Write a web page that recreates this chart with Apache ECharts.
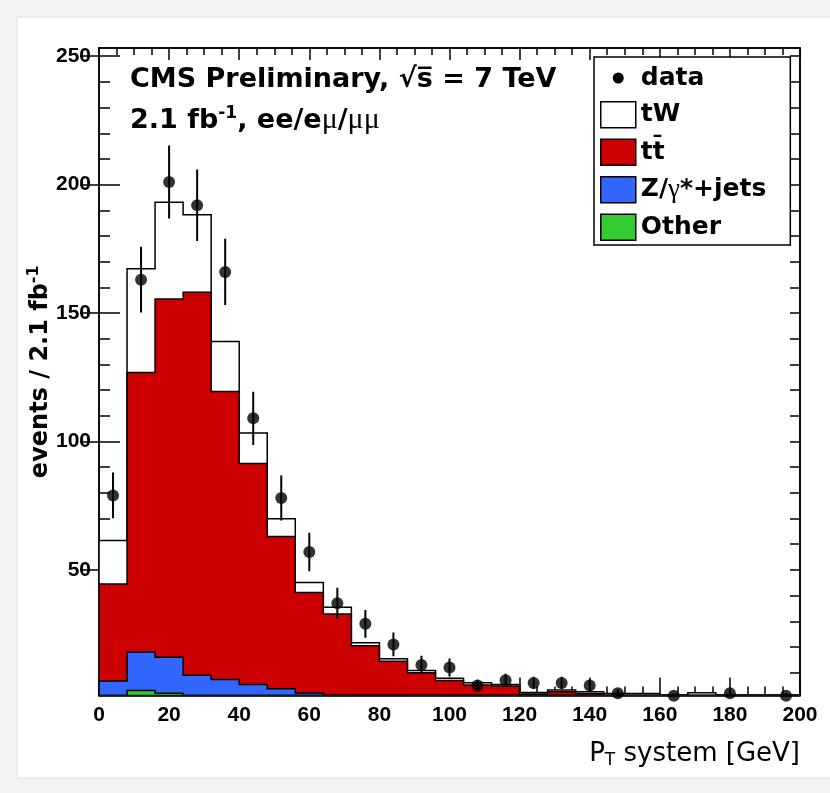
<!DOCTYPE html>
<html>
<head>
<meta charset="utf-8">
<script src="https://cdn.jsdelivr.net/npm/echarts@6/dist/echarts.min.js"></script>
<style>
  html, body { margin: 0; padding: 0; background: #f3f3f3; }
  #chart { width: 830px; height: 793px; }
</style>
</head>
<body>
<div id="chart"></div>
<script>
// bin edges of the histogram (GeV)
var binEdges = [0, 8, 16, 24, 32, 40, 48, 56, 64, 72, 80, 88, 96, 104, 112, 120,
  128, 136, 144, 152, 160, 168, 176, 184, 192, 200];

// expected events per bin, one array per process (stacked bottom -> top)
var otherEv = [0.5, 3.0, 2.0, 0.8, 0.6, 0.5, 0.4, 0.3, 0.3, 0.2, 0.2, 0.1, 0.1,
  0.1, 0.1, 0.1, 0.1, 0.1, 0.05, 0.05, 0.05, 0.05, 0.05, 0.05, 0.05];
var zjetsEv = [6.2, 15.0, 14.0, 8.2, 6.7, 4.9, 3.3, 1.8, 0.7, 0.4, 0.3, 0.3, 0.2,
  0.2, 0.1, 0.1, 0.1, 0.1, 0.05, 0.05, 0.05, 0.05, 0.05, 0.05, 0.05];
var ttbarEv = [37.8, 108.9, 139.5, 149.1, 112.2, 86.0, 59.3, 39.1, 31.8, 19.9, 13.9,
  9.6, 6.6, 4.9, 4.6, 1.5, 2.4, 1.7, 1.0, 1.0, 1.0, 1.0, 1.0, 1.0, 1.0];
var twEv = [16.9, 40.4, 37.6, 30.2, 19.4, 11.9, 6.9, 3.9, 2.7, 1.1, 1.0, 0.8, 0.9,
  0.9, 0.6, 0.6, 0.6, 0.7, 0.8, 0.8, 0.2, 1.1, 0.2, 0.2, 0.2];

// observed data
var dataX = [4, 12, 20, 28, 36, 44, 52, 60, 68, 76, 84, 92, 100, 108, 116, 124,
  132, 140, 148, 164, 180, 196];
var dataN = [79, 163, 201, 192, 166, 109, 78, 57, 37, 29, 21, 13, 12, 5, 7, 6,
  6, 5, 2, 1, 2, 1];
var dataErr = [8.9, 12.8, 14.2, 13.9, 12.9, 10.4, 8.8, 7.5, 6.1, 5.4, 4.6, 3.6,
  3.5, 2.2, 2.6, 2.4, 2.4, 2.2, 1.4, 1.0, 1.4, 1.0];

var yMinorTicks = [10, 20, 30, 40, 50, 60, 70, 80, 90, 100, 110, 120, 130, 140, 150,
  160, 170, 180, 190, 200, 210, 220, 230, 240, 250];
var yMajorTicks = [50, 100, 150, 200, 250];

var yMin = 1.1, yMax = 253.2;
var font = 'DejaVu Sans, sans-serif';
var numFont = 'Liberation Sans, Arial, sans-serif';
var greekFont = 'Liberation Serif, serif';

function cumulate(layers) {
  return layers[0].map(function (_, i) {
    return layers.reduce(function (s, l) { return s + l[i]; }, 0);
  });
}
var cumOther = cumulate([otherEv]);
var cumZ = cumulate([otherEv, zjetsEv]);
var cumTT = cumulate([otherEv, zjetsEv, ttbarEv]);
var cumTW = cumulate([otherEv, zjetsEv, ttbarEv, twEv]);

function stepSeries(name, cum, color) {
  return {
    name: name,
    type: 'custom',
    clip: true,
    silent: true,
    itemStyle: { color: color, borderColor: '#000', borderWidth: 1.5 },
    data: [[0, 0]],
    renderItem: function (params, api) {
      var last = binEdges.length - 1;
      var pts = [api.coord([binEdges[0], yMin])];
      for (var i = 0; i < cum.length; i++) {
        pts.push(api.coord([binEdges[i], cum[i]]));
        pts.push(api.coord([binEdges[i + 1], cum[i]]));
      }
      pts.push(api.coord([binEdges[last], yMin]));
      return {
        type: 'polygon',
        shape: { points: pts },
        style: { fill: color, stroke: '#000', lineWidth: 1.5 }
      };
    }
  };
}

var blackLine = { color: '#000', width: 1.5 };
var dataIcon = 'path://M0,0L0,0M35,26L35,26M12,13a5.5,5.5 0 1,0 11,0a5.5,5.5 0 1,0 -11,0z';

var chart = echarts.init(document.getElementById('chart'));
chart.setOption({
  backgroundColor: '#f3f3f3',
  animation: false,
  graphic: [{
    type: 'rect', silent: true, z: -10,
    shape: { x: 17, y: 17, width: 840, height: 761 },
    style: { fill: '#fff', stroke: '#e0e0e0', lineWidth: 1 }
  }],
  title: [{
    left: 130, top: 66, padding: 0,
    text: 'CMS Preliminary, \u221As\u0305 = 7 TeV',
    textStyle: { fontSize: 27, fontWeight: 'bold', color: '#000', fontFamily: font }
  }, {
    left: 130, top: 105, padding: 0,
    text: '2.1 fb{sup|-1}, ee/e{g|\u03BC}/{g|\u03BC\u03BC}',
    textStyle: {
      fontSize: 27, fontWeight: 'bold', color: '#000', fontFamily: font,
      rich: {
        sup: { fontSize: 17, fontWeight: 'bold', fontFamily: font, padding: [0, 0, 14, 0] },
        g: { fontSize: 30, fontWeight: 'normal', fontFamily: greekFont }
      }
    }
  }],
  legend: {
    orient: 'vertical',
    left: 594, top: 57,
    itemWidth: 35, itemHeight: 26, itemGap: 10,
    padding: [8, 24, 4, 6],
    borderColor: '#000', borderWidth: 1.5,
    backgroundColor: '#fff',
    selectedMode: false,
    textStyle: {
      fontSize: 25, fontWeight: 'bold', color: '#000', fontFamily: font,
      rich: { g: { fontSize: 27, fontWeight: 'normal', fontFamily: greekFont } }
    },
    formatter: function (name) {
      if (name === 'Z/\u03B3*+jets') return 'Z/{g|\u03B3}*+jets';
      return name;
    },
    data: [
      { name: 'data', icon: dataIcon, itemStyle: { color: '#000', borderWidth: 0 } },
      { name: 'tW', icon: 'rect', itemStyle: { color: '#fff', borderColor: '#000', borderWidth: 1.5 } },
      { name: 'tt\u0304', icon: 'rect', itemStyle: { color: '#cc0000', borderColor: '#000', borderWidth: 1.5 } },
      { name: 'Z/\u03B3*+jets', icon: 'rect', itemStyle: { color: '#3366ff', borderColor: '#000', borderWidth: 1.5 } },
      { name: 'Other', icon: 'rect', itemStyle: { color: '#33cc33', borderColor: '#000', borderWidth: 1.5 } }
    ]
  },
  grid: {
    left: 99, right: 30, top: 48, bottom: 97.5,
    show: true, borderColor: '#000', borderWidth: 1.5
  },
  xAxis: [{
    type: 'value', position: 'bottom', min: 0, max: 200, interval: 20,
    axisLine: { show: true, onZero: false, lineStyle: blackLine },
    axisTick: { inside: true, length: 18, lineStyle: blackLine },
    minorTick: { show: true, splitNumber: 4, length: 9, lineStyle: blackLine },
    splitLine: { show: false },
    axisLabel: { margin: 9, fontSize: 21, fontWeight: 'bold', color: '#000', fontFamily: numFont },
    name: 'P{sub|T} system [GeV]',
    nameLocation: 'end', nameGap: 0, nameMoveOverlap: false,
    nameTextStyle: {
      align: 'right', verticalAlign: 'top', padding: [43, 0, 0, 0],
      fontSize: 26, color: '#000', fontFamily: font,
      rich: { sub: { fontSize: 17, fontFamily: font, padding: [14, 0, 0, 0] } }
    }
  }, {
    type: 'value', position: 'top', min: 0, max: 200, interval: 20,
    axisLine: { show: true, onZero: false, lineStyle: blackLine },
    axisTick: { inside: true, length: 12, lineStyle: blackLine },
    minorTick: { show: true, splitNumber: 4, length: 7, lineStyle: blackLine },
    splitLine: { show: false },
    axisLabel: { show: false }
  }],
  yAxis: [{
    type: 'value', position: 'left', min: yMin, max: yMax,
    axisLine: { show: true, onZero: false, lineStyle: blackLine },
    axisTick: { inside: true, length: 11, customValues: yMinorTicks, lineStyle: blackLine },
    splitLine: { show: false },
    axisLabel: {
      customValues: yMajorTicks, margin: 8,
      fontSize: 21, fontWeight: 'bold', color: '#000', fontFamily: numFont
    },
    name: 'events / 2.1 fb{sup|-1}',
    nameLocation: 'middle', nameGap: 43, nameRotate: 90, nameMoveOverlap: false,
    nameTextStyle: {
      fontSize: 24, fontWeight: 'bold', color: '#000', fontFamily: font,
      rich: { sup: { fontSize: 16, fontWeight: 'bold', fontFamily: font, padding: [0, 0, 14, 0] } }
    }
  }, {
    type: 'value', position: 'left', min: yMin, max: yMax,
    axisLine: { show: false },
    axisTick: { inside: true, length: 21, customValues: yMajorTicks, lineStyle: blackLine },
    splitLine: { show: false },
    axisLabel: { show: false }
  }, {
    type: 'value', position: 'right', min: yMin, max: yMax,
    axisLine: { show: true, onZero: false, lineStyle: blackLine },
    axisTick: { inside: true, length: 10, customValues: yMinorTicks, lineStyle: blackLine },
    splitLine: { show: false },
    axisLabel: { show: false }
  }, {
    type: 'value', position: 'right', min: yMin, max: yMax,
    axisLine: { show: false },
    axisTick: { inside: true, length: 19, customValues: yMajorTicks, lineStyle: blackLine },
    splitLine: { show: false },
    axisLabel: { show: false }
  }],
  series: [
    stepSeries('tW', cumTW, '#ffffff'),
    stepSeries('tt\u0304', cumTT, '#cc0000'),
    stepSeries('Z/\u03B3*+jets', cumZ, '#3366ff'),
    stepSeries('Other', cumOther, '#33cc33'),
    {
      name: 'data',
      type: 'custom',
      clip: true,
      silent: true,
      data: dataX.map(function (x, i) { return [x, dataN[i], dataErr[i]]; }),
      renderItem: function (params, api) {
        var x = api.value(0), v = api.value(1), e = api.value(2);
        var p1 = api.coord([x, v - e]);
        var p2 = api.coord([x, v + e]);
        return {
          type: 'line',
          shape: { x1: p1[0], y1: p1[1], x2: p2[0], y2: p2[1] },
          style: { stroke: '#000', lineWidth: 2 }
        };
      }
    },
    {
      name: 'data',
      type: 'scatter',
      clip: false,
      silent: true,
      symbol: 'circle',
      symbolSize: 12,
      itemStyle: { color: '#000' },
      z: 5,
      data: dataX.map(function (x, i) { return [x, dataN[i]]; })
    }
  ]
});
</script>
</body>
</html>
